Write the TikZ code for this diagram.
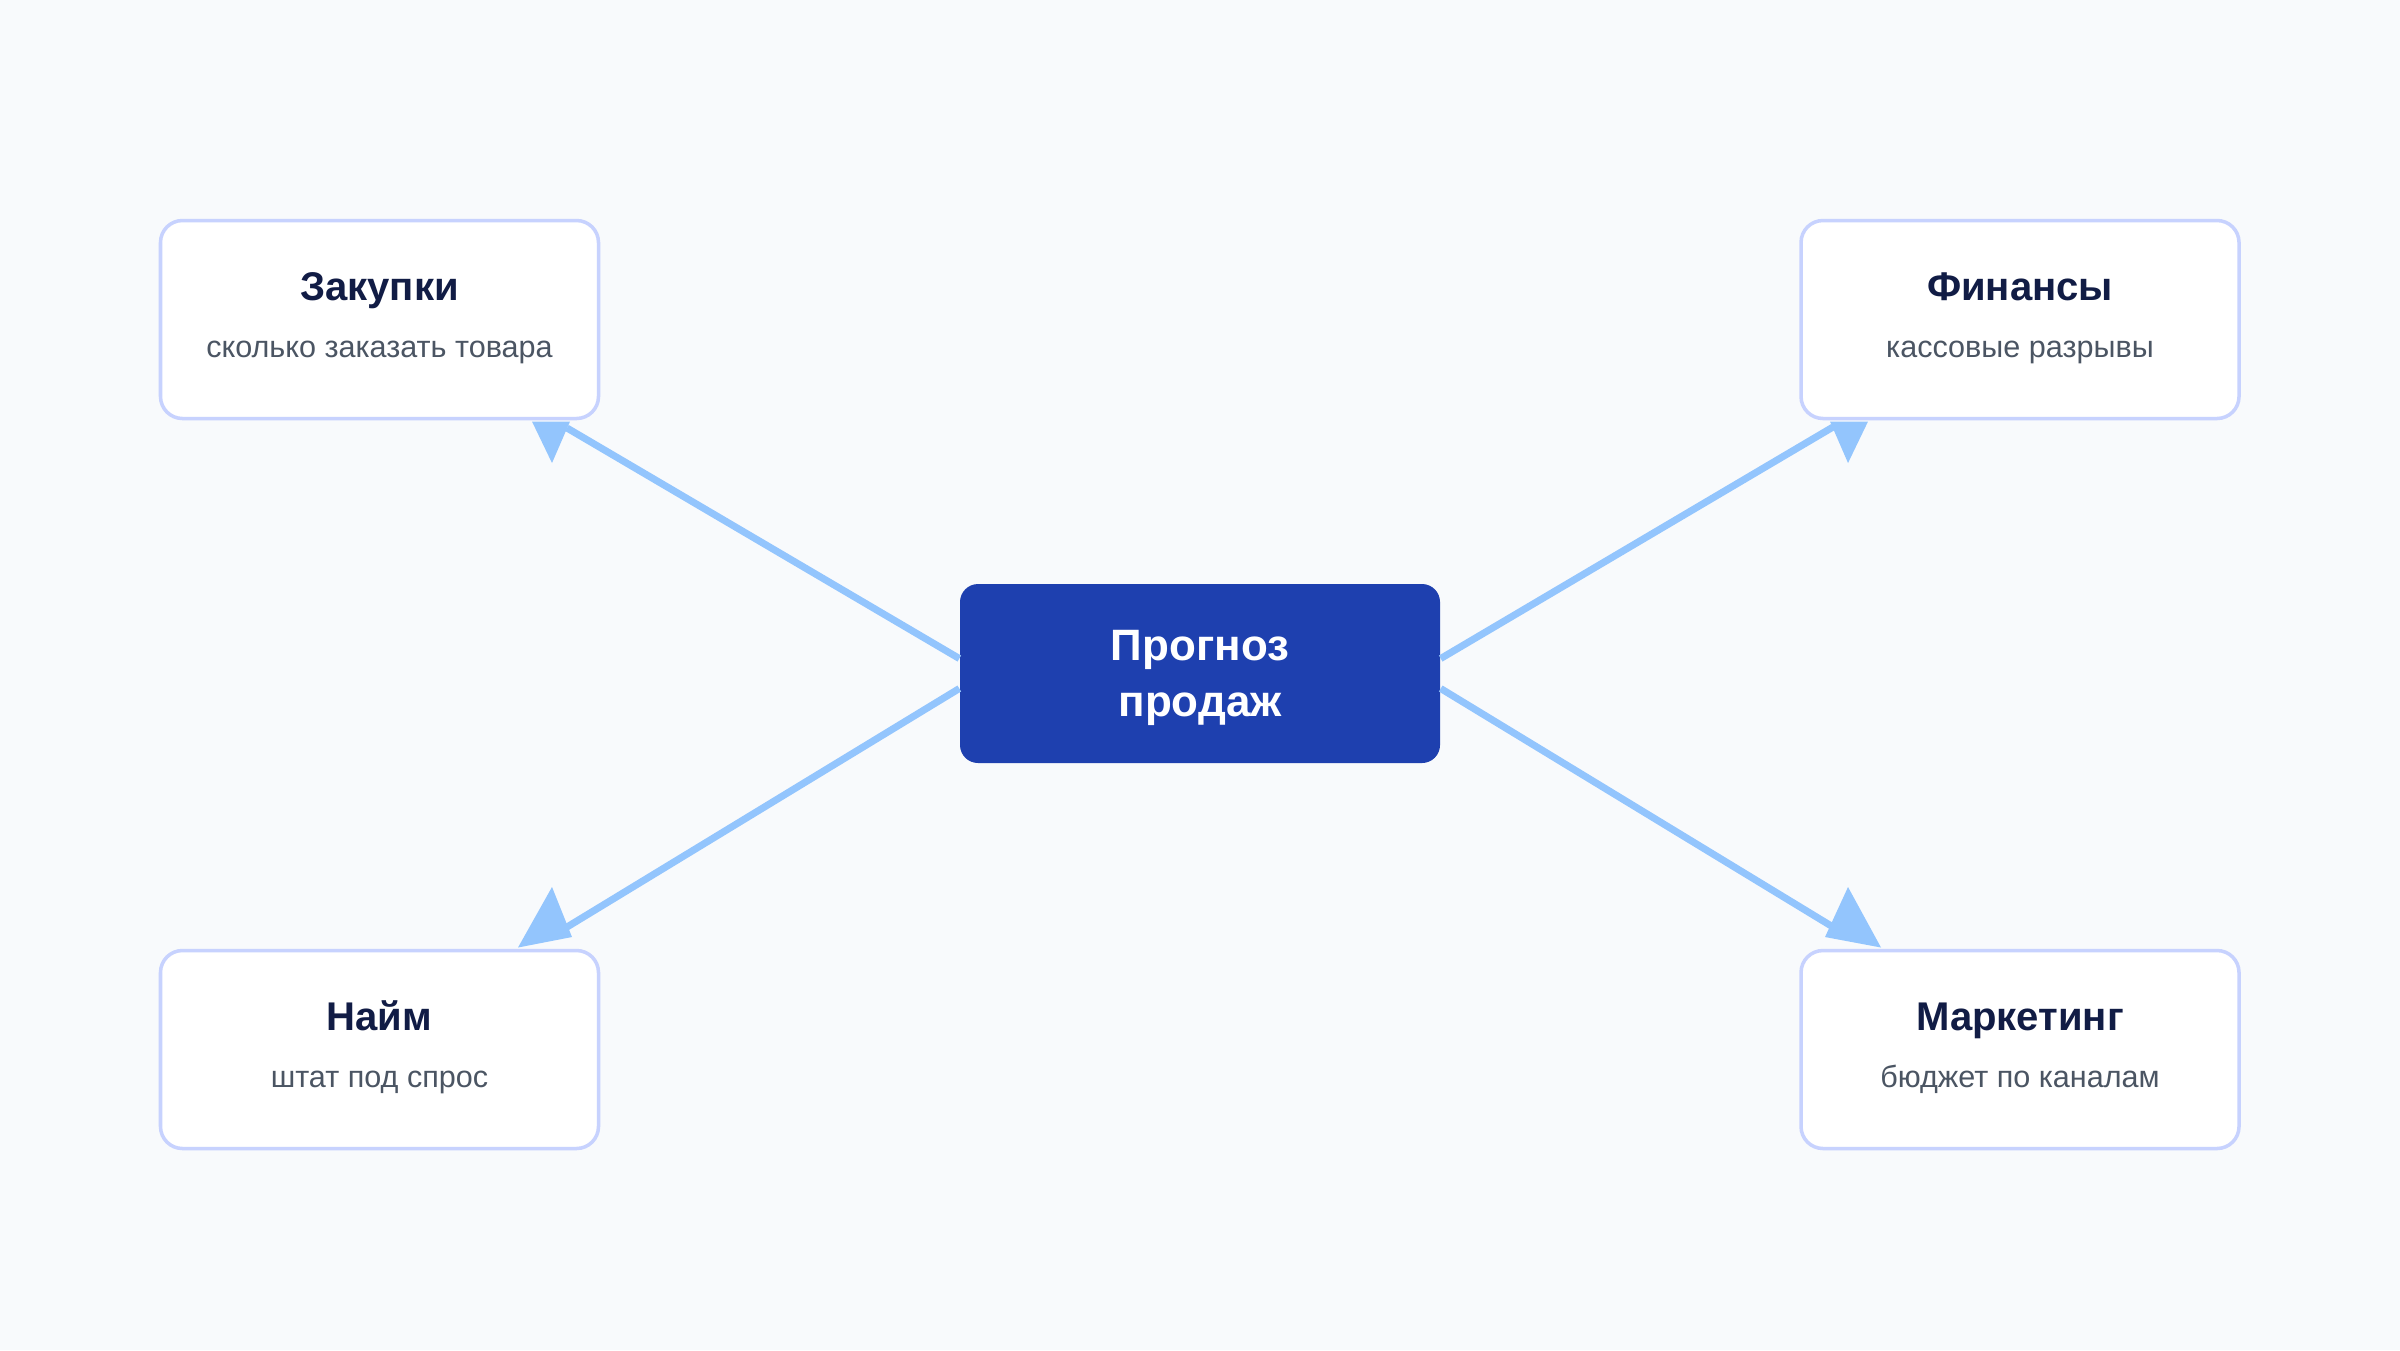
\documentclass[tikz,border=0pt]{standalone}
\usepackage{fontspec}
\setmainfont{Liberation Sans}
\usepackage{xcolor}
\usepackage{tikz}
\usetikzlibrary{calc}
\definecolor{pagebg}{HTML}{F8FAFC}
\definecolor{cardline}{HTML}{C7D2FE}
\definecolor{hubblue}{HTML}{1E40AF}
\definecolor{linkblue}{HTML}{93C5FD}
\definecolor{titleink}{HTML}{111C45}
\definecolor{subink}{HTML}{4B5563}
\tikzset{
	card/.style={draw=cardline, line width=1pt, fill=white, rounded corners=0.22cm,
		minimum width=4.38cm, minimum height=1.98cm, inner sep=0pt},
	hub/.style={fill=hubblue, rounded corners=0.18cm, minimum width=4.8cm,
		minimum height=1.79cm, inner sep=0pt},
	ttl/.style={anchor=base, text=titleink, font=\fontsize{11.4}{13}\selectfont\bfseries},
	sub/.style={anchor=base, text=subink, font=\fontsize{8.7}{11}\selectfont},
	hubtxt/.style={anchor=base, text=white, font=\fontsize{12.5}{15}\selectfont\bfseries},
	link/.style={draw=linkblue, line width=2pt},
	tip/.style={fill=linkblue}
}

\begin{document}
\begin{tikzpicture}
						\fill[pagebg] (0,0) rectangle (24,-13.5);
						\useasboundingbox (0,0) rectangle (24,-13.5);
						
						\coordinate (TL) at (3.795,-3.195);
						\coordinate (TR) at (20.2,-3.195);
						\coordinate (BL) at (3.795,-10.495);
						\coordinate (BR) at (20.2,-10.495);
						\coordinate (M) at (12,-6.735);
						
						% boxes
						\node[card] (buy) at (TL) {};
						\node[card] (fin) at (TR) {};
						\node[card] (hire) at (BL) {};
						\node[card] (mkt) at (BR) {};
						\node[hub] (hub) at (M) {};
						
						\node[ttl] (buy-t) at ([yshift=0.195cm]buy.center) {Закупки};
						\node[sub] (buy-s) at ([yshift=-0.375cm]buy.center) {сколько заказать товара};
						\node[ttl] (fin-t) at ([yshift=0.195cm]fin.center) {Финансы};
						\node[sub] (fin-s) at ([yshift=-0.375cm]fin.center) {кассовые разрывы};
						\node[ttl] (hire-t) at ([yshift=0.195cm]hire.center) {Найм};
						\node[sub] (hire-s) at ([yshift=-0.375cm]hire.center) {штат под спрос};
						\node[ttl] (mkt-t) at ([yshift=0.195cm]mkt.center) {Маркетинг};
						\node[sub] (mkt-s) at ([yshift=-0.375cm]mkt.center) {бюджет по каналам};
						
						\node[hubtxt] (hub-a) at ([yshift=0.128cm]hub.center) {Прогноз};
						\node[hubtxt] (hub-b) at ([yshift=-0.432cm]hub.center) {продаж};
						
						% arrow ends
						\coordinate (buy-e) at (5.67,-4.28);
						\coordinate (fin-e) at (18.33,-4.27);
						\coordinate (hire-e) at (5.67,-9.27);
						\coordinate (mkt-e) at (18.33,-9.27);
						
						\draw[link] ([yshift=0.15cm]hub.west) -- (buy-e);
						\draw[link] ([yshift=-0.15cm]hub.west) -- (hire-e);
						\draw[link] ([yshift=0.15cm]hub.east) -- (fin-e);
						\draw[link] ([yshift=-0.15cm]hub.east) -- (mkt-e);
						
						\fill[tip] (5.32,-4.215) -- (5.70,-4.215) -- (5.52,-4.63) -- cycle;
						\fill[tip] (18.30,-4.215) -- (18.68,-4.215) -- (18.48,-4.63) -- cycle;
						\fill[tip] (5.52,-8.87) -- (5.72,-9.37) -- (5.18,-9.475) -- cycle;
						\fill[tip] (18.48,-8.87) -- (18.25,-9.37) -- (18.81,-9.475) -- cycle;
					\end{tikzpicture}
\end{document}
